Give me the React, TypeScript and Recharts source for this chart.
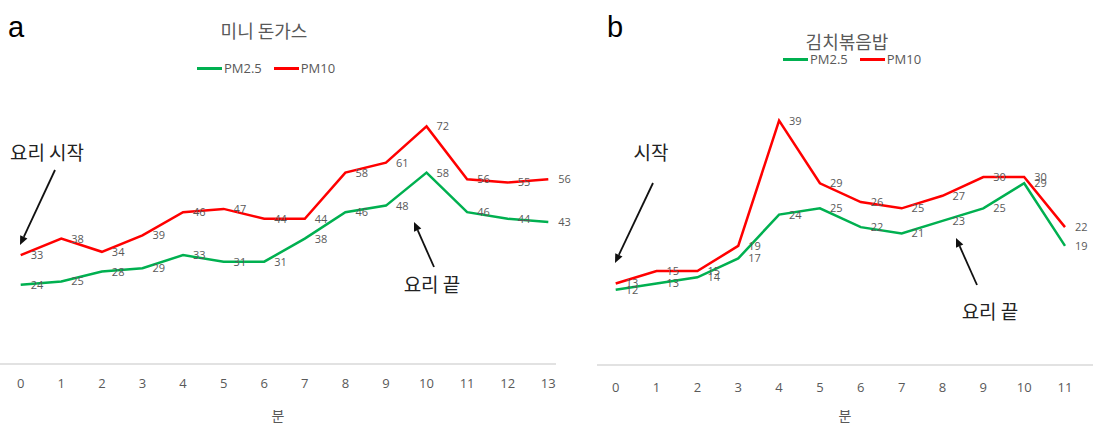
import { LabelList, Legend, Line, LineChart, XAxis, YAxis } from 'recharts'

// panel a: 미니 돈가스
const MINUTES_A = ['0', '1', '2', '3', '4', '5', '6', '7', '8', '9', '10', '11', '12', '13']
const PM25_A = [24, 25, 28, 29, 33, 31, 31, 38, 46, 48, 58, 46, 44, 43]
const PM10_A = [33, 38, 34, 39, 46, 47, 44, 44, 58, 61, 72, 56, 55, 56]

// panel b: 김치볶음밥
const MINUTES_B = ['0', '1', '2', '3', '4', '5', '6', '7', '8', '9', '10', '11']
const PM25_B = [12, 13, 14, 17, 24, 25, 22, 21, 23, 25, 29, 19]
const PM10_B = [13, 15, 15, 19, 39, 29, 26, 25, 27, 30, 30, 22]

const SERIES_ORDER = ['PM2.5', 'PM10']

const GREEN = '#00b050'
const RED = '#ff0000'
const GREY = '#595959'
const NUM_FONT = '"Open Sans", "Noto Sans", sans-serif'
const KR_FONT = '"Noto Sans CJK KR", "Noto Sans", sans-serif'

interface PanelProps {
  minutes: string[]
  pm25: number[]
  pm10: number[]
  left: number
  width: number
  margin: { top: number; right: number; bottom: number; left: number }
  yMax: number
  padding: { left: number; right: number }
  axisHeight: number
  tickMargin: number
  labelOffset: number
  legendTop: number
  legendLeft: number
}

function Panel(p: PanelProps) {
  const data = p.minutes.map((m, i) => ({ min: m, pm25: p.pm25[i], pm10: p.pm10[i] }))
  return (
    <div style={{ position: 'absolute', left: p.left, top: 0 }}>
      <LineChart width={p.width} height={425} data={data} margin={p.margin}>
        <XAxis
          dataKey="min"
          height={p.axisHeight}
          padding={p.padding}
          axisLine={{ stroke: '#d9d9d9', strokeWidth: 1.5 }}
          tickLine={false}
          tickMargin={p.tickMargin}
          tick={{ fill: GREY, fontSize: 13, fontFamily: NUM_FONT }}
          interval={0}
          label={{
            value: '분',
            position: 'insideBottom',
            offset: p.labelOffset,
            fill: GREY,
            fontSize: 14,
            fontFamily: KR_FONT,
          }}
        />
        <YAxis hide domain={[0, p.yMax]} />
        <Legend
          layout="horizontal"
          verticalAlign="middle"
          align="center"
          wrapperStyle={{ top: p.legendTop, left: 0, width: p.width }}
          content={({ payload }: any) => {
            const items = [...(payload ?? [])].sort(
              (a: any, b: any) => SERIES_ORDER.indexOf(a.value) - SERIES_ORDER.indexOf(b.value),
            )
            return (
              <div style={{ display: 'flex', alignItems: 'center', marginLeft: p.legendLeft, fontSize: 13, color: GREY, fontFamily: NUM_FONT }}>
                {items.map((e: any) => (
                  <span key={e.value} style={{ display: 'flex', alignItems: 'center', marginRight: 12 }}>
                    <span style={{ display: 'inline-block', width: 25, height: 3, background: e.color, marginRight: 2 }} />
                    {e.value}
                  </span>
                ))}
              </div>
            )
          }}
        />
        <Line type="linear" dataKey="pm25" name="PM2.5" stroke={GREEN} strokeWidth={2.5} dot={false} isAnimationActive={false}>
          <LabelList dataKey="pm25" position="right" offset={10} fill={GREY} fontSize={11} fontFamily={NUM_FONT} />
        </Line>
        <Line type="linear" dataKey="pm10" name="PM10" stroke={RED} strokeWidth={2.5} dot={false} isAnimationActive={false}>
          <LabelList dataKey="pm10" position="right" offset={10} fill={GREY} fontSize={11} fontFamily={NUM_FONT} />
        </Line>
      </LineChart>
    </div>
  )
}

function Arrow({ x1, y1, x2, y2 }: { x1: number; y1: number; x2: number; y2: number }) {
  const a = Math.atan2(y2 - y1, x2 - x1)
  const len = 9
  const w = 4
  const bx = x2 - len * Math.cos(a)
  const by = y2 - len * Math.sin(a)
  const pts = [
    `${x2},${y2}`,
    `${bx + w * Math.sin(a)},${by - w * Math.cos(a)}`,
    `${bx - w * Math.sin(a)},${by + w * Math.cos(a)}`,
  ].join(' ')
  return (
    <g>
      <line x1={x1} y1={y1} x2={bx} y2={by} stroke="#111" strokeWidth={1.8} />
      <polygon points={pts} fill="#111" />
    </g>
  )
}

export default function App() {
  return (
    <div style={{ position: 'absolute', left: 0, top: 0, width: 1093, height: 425, background: '#fff', fontFamily: KR_FONT }}>
      <Panel
        minutes={MINUTES_A}
        pm25={PM25_A}
        pm10={PM10_A}
        left={0}
        width={590}
        margin={{ top: 100, right: 34, bottom: 0, left: 0 }}
        yMax={80}
        padding={{ left: 20.7, right: 7.7 }}
        axisHeight={61}
        tickMargin={9}
        labelOffset={4}
        legendTop={59}
        legendLeft={197}
      />
      <Panel
        minutes={MINUTES_B}
        pm25={PM25_B}
        pm10={PM10_B}
        left={590}
        width={503}
        margin={{ top: 83, right: 0, bottom: 0, left: 7 }}
        yMax={45}
        padding={{ left: 18.7, right: 28 }}
        axisHeight={60}
        tickMargin={12}
        labelOffset={4}
        legendTop={50}
        legendLeft={193}
      />
      <svg width={1093} height={425} style={{ position: 'absolute', left: 0, top: 0, pointerEvents: 'none' }}>
        <text x={8} y={37} fontSize={29} fontFamily='"Liberation Sans", Arial, sans-serif' fill="#000">a</text>
        <text x={607} y={37} fontSize={29} fontFamily='"Liberation Sans", Arial, sans-serif' fill="#000">b</text>
        <text x={264} y={38} textAnchor="middle" fontSize={18} fill={GREY} fontFamily={KR_FONT}>미니 돈가스</text>
        <text x={847} y={49} textAnchor="middle" fontSize={18} fill={GREY} fontFamily={KR_FONT}>김치볶음밥</text>

        <text x={47} y={160} textAnchor="middle" fontSize={19} fill="#222" fontFamily={KR_FONT}>요리 시작</text>
        <Arrow x1={55} y1={170} x2={20} y2={245} />
        <text x={432} y={292} textAnchor="middle" fontSize={19} fill="#222" fontFamily={KR_FONT}>요리 끝</text>
        <Arrow x1={434} y1={267} x2={414} y2={222} />

        <text x={651} y={160} textAnchor="middle" fontSize={19} fill="#222" fontFamily={KR_FONT}>시작</text>
        <Arrow x1={653} y1={183} x2={615} y2={263} />
        <text x={990} y={319} textAnchor="middle" fontSize={19} fill="#222" fontFamily={KR_FONT}>요리 끝</text>
        <Arrow x1={977} y1={285} x2={956} y2={238} />
      </svg>
    </div>
  )
}
